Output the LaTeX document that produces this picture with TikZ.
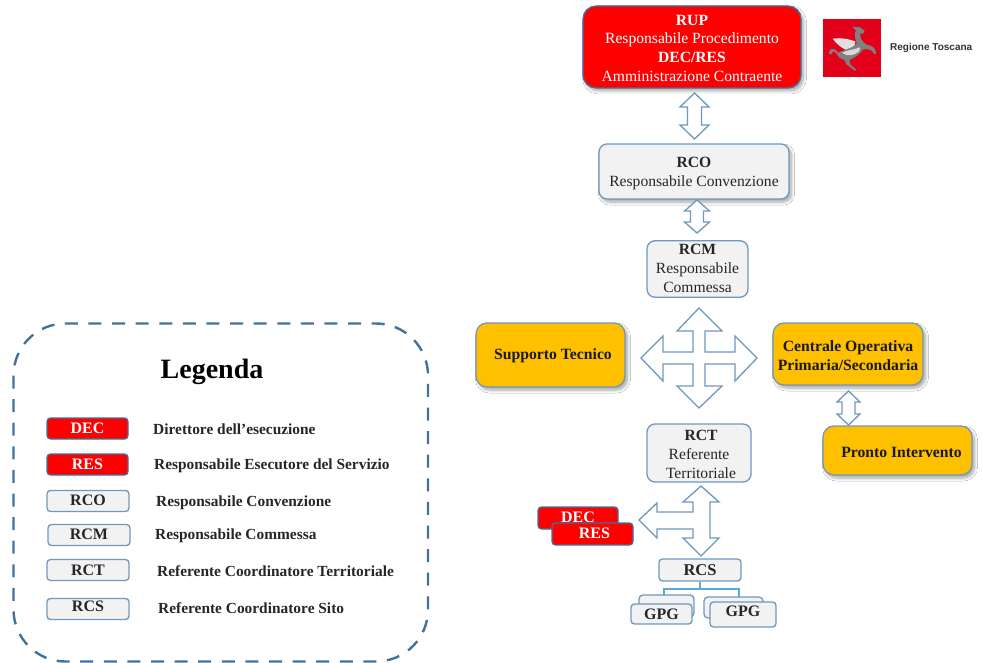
\documentclass[tikz,border=0pt]{standalone}
\usepackage{fontspec}
\setmainfont{Liberation Serif}
\newfontfamily\logofont{Liberation Sans}
\usetikzlibrary{shadows,shadows.blur}
\definecolor{edgeblue}{HTML}{6F98BE}
\definecolor{edgedark}{HTML}{41719C}
\definecolor{chipgray}{HTML}{F2F2F2}
\definecolor{amber}{HTML}{FFC000}
\definecolor{toscana}{HTML}{E2001A}
\newcommand{\dn}[2][1.6pt]{\raisebox{-#1}[\height][\depth]{\begin{tabular}{@{}c@{}}#2\end{tabular}}}
\tikzset{
  box/.style={draw=edgeblue,line width=1.3pt,fill=chipgray,rounded corners=8pt,align=center,inner sep=0pt,text=black!85,font=\fontsize{15.6}{18.8}\selectfont},
  softshadow/.style={blur shadow={shadow xshift=2.5pt,shadow yshift=-3pt,shadow blur radius=3pt,shadow blur steps=8,shadow opacity=35}},
  redbox/.style={box,draw=edgedark,fill=red,text=white},
  amberbox/.style={box,fill=amber,rounded corners=11pt,softshadow,text=black!90,font=\fontsize{15.7}{18.8}\selectfont\bfseries},
  chip/.style={box,rounded corners=3.5pt,font=\fontsize{16}{18}\selectfont\bfseries,minimum width=82pt,minimum height=21pt},
  redchip/.style={chip,draw=edgedark,fill=red,text=white},
  legendtext/.style={anchor=west,inner sep=0pt,text=black!85,font=\fontsize{15.4}{18}\selectfont\bfseries},
  blockarrow/.style={draw=edgeblue,line width=1.3pt,fill=white,line join=miter},
  tree/.style={draw=edgeblue!80!cyan,line width=1.4pt}
}
% vertical double block arrow: centre x, top, bottom, head half width, shaft half width, head length
\newcommand{\vdouble}[6]{%
  \draw[blockarrow] (#1,#2) -- (#1+#4,#2+#6) -- (#1+#5,#2+#6) -- (#1+#5,#3-#6) -- (#1+#4,#3-#6)
    -- (#1,#3) -- (#1-#4,#3-#6) -- (#1-#5,#3-#6) -- (#1-#5,#2+#6) -- (#1-#4,#2+#6) -- cycle;}
\begin{document}
\begin{tikzpicture}[x=1pt,y=-1pt]
\useasboundingbox (0,0) rectangle (982,663);
\fill[white] (0,0) rectangle (982,663);

% Legend frame
\draw[edgedark,line width=2.4pt,dash pattern=on 13pt off 10.6pt,rounded corners=52pt] (13.5,323.5) rectangle (428,661.5);
\node[inner sep=0pt,font=\fontsize{28}{32}\selectfont\bfseries] (legendtitle) at (212,371.5) {Legenda};

\node[redchip,minimum width=81pt] (ldec) at (87.5,428.5) {\dn[1pt]{DEC}};
\node[redchip,minimum width=81pt] (lres) at (87.5,464.5) {\dn[1pt]{RES}};
\node[chip] (lrco) at (88,501) {\dn[1pt]{RCO}};
\node[chip] (lrcm) at (89,535) {\dn[0.5pt]{RCM}};
\node[chip] (lrct) at (88,570) {\dn[2pt]{RCT}};
\node[chip] (lrcs) at (88,609) {\dn[-1pt]{RCS}};
\node[legendtext] (tdec) at (153,429.5) {Direttore dell’esecuzione};
\node[legendtext] (tres) at (154,465.5) {Responsabile Esecutore del Servizio};
\node[legendtext] (trco) at (156,502.5) {Responsabile Convenzione};
\node[legendtext] (trcm) at (155,535.5) {Responsabile Commessa};
\node[legendtext] (trct) at (157,571.5) {Referente Coordinatore Territoriale};
\node[legendtext] (trcs) at (158,608.5) {Referente Coordinatore Sito};

% Main boxes
\node[redbox,rounded corners=13pt,softshadow,minimum width=218pt,minimum height=82pt] (rup) at (692,47)
  {\dn[2.6pt]{\textbf{RUP}\\Responsabile Procedimento\\\textbf{DEC/RES}\\Amministrazione Contraente}};
\node[box,softshadow,minimum width=190pt,minimum height=55pt] (rco) at (694,171.5)
  {\dn{\textbf{RCO}\\Responsabile Convenzione}};
\node[box,minimum width=101pt,minimum height=56pt] (rcm) at (697.5,269)
  {\dn[0.5pt]{\textbf{RCM}\\Responsabile\\Commessa}};
\node[amberbox,minimum width=149pt,minimum height=64pt] (sup) at (550.5,355) {\dn[0.5pt]{\hspace*{5pt}Supporto Tecnico}};
\node[amberbox,minimum width=150pt,minimum height=62pt] (cop) at (848,354) {\dn[3pt]{Centrale Operativa\\Primaria/Secondaria}};
\node[amberbox,minimum width=149pt,minimum height=49pt] (pronto) at (897.5,450.5) {\dn[3pt]{\hspace*{8pt}Pronto Intervento}};
\node[box,minimum width=104pt,minimum height=58pt] (rct) at (699,453)
  {\dn[2.5pt]{\hspace*{4pt}\textbf{RCT}\\Referente\\\hspace*{4pt}Territoriale}};

% Logo
\fill[toscana] (823,19) rectangle (881,77);
\begin{scope}[shift={(810,10)},x=0.3333pt,y=-0.3333pt]
  \fill[black!12] (68,86) .. controls (95,82) and (118,88) .. (136,94) -- (130,126) .. controls (108,124) and (84,108) .. (68,86) -- cycle;
  \fill[black!50] (56,130) .. controls (58,112) and (76,112) .. (84,128) -- (100,122) .. controls (118,114) and (132,112) .. (140,100)
    .. controls (136,84) and (130,72) .. (138,62) -- (126,50) -- (150,52) -- (164,62) -- (158,72) -- (150,70)
    .. controls (150,84) and (156,96) .. (170,104) .. controls (186,108) and (198,112) .. (198,132) -- (192,132) .. controls (188,120) and (176,116) .. (160,118)
    .. controls (150,132) and (130,146) .. (118,150) -- (122,164) -- (140,180) -- (134,182) -- (108,162) -- (104,150) .. controls (92,148) and (84,140) .. (80,132)
    .. controls (74,122) and (66,122) .. (64,134) -- cycle;
  \fill[black!15] (96,128) .. controls (112,120) and (130,120) .. (150,112) -- (148,124) .. controls (134,136) and (112,142) .. (96,128) -- cycle;
\end{scope}
\node[anchor=west,inner sep=0pt,font=\fontsize{10}{12}\selectfont\bfseries\logofont,text=black!80] (logotext) at (890,48) {Regione Toscana};

% Block arrows
\vdouble{694.5}{93}{139}{14.5}{7}{14}
\vdouble{697}{200}{233}{12.5}{6.5}{11}
\vdouble{848.5}{391}{425}{11.5}{6.5}{11}
\draw[blockarrow] (699,308) -- (722,331) -- (705,331) -- (705,352) -- (735,352) -- (735,336) -- (757,358)
  -- (735,381) -- (735,364) -- (705,364) -- (705,386) -- (722,386) -- (699,408) -- (677,386) -- (693,386)
  -- (693,364) -- (663,364) -- (663,381) -- (641,358) -- (663,336) -- (663,352) -- (693,352) -- (693,331) -- (677,331) -- cycle;
\draw[blockarrow] (701,486) -- (719,502) -- (710,502) -- (710,538) -- (719,538) -- (701,556) -- (683,538)
  -- (693,538) -- (693,529) -- (657,529) -- (657,538) -- (639,520) -- (657,503) -- (657,512) -- (693,512) -- (693,502) -- (683,502) -- cycle;

% Lower boxes
\node[redchip,minimum width=80pt,minimum height=22pt] (dec2) at (578,518) {\dn[1pt]{DEC}};
\node[redchip,minimum width=81pt,minimum height=22pt] (res2) at (592.5,534) {\dn[0.5pt]{\hspace*{4pt}RES}};
\node[chip,minimum width=82pt,minimum height=22pt,font=\fontsize{16.5}{18}\selectfont\bfseries] (rcs) at (700,570) {RCS};
\coordinate (gpgla) at (664,595);
\coordinate (gpgra) at (739,597);
\draw[tree] (rcs.south) -- (700,589) -| (gpgla);
\draw[tree] (700,589) -| (gpgra);
\node[box,rounded corners=4pt,minimum width=55pt,minimum height=22pt] (gpgl2) at (666.5,606) {};
\node[chip,minimum width=61pt,minimum height=20pt] (gpgl) at (661.5,614) {GPG};
\node[box,rounded corners=4pt,minimum width=59pt,minimum height=21pt] (gpgr2) at (733.5,607.5) {};
\node[chip,minimum width=66pt,minimum height=25pt] (gpgr) at (743,614.5) {\dn[-2pt]{GPG}};
\end{tikzpicture}
\end{document}
